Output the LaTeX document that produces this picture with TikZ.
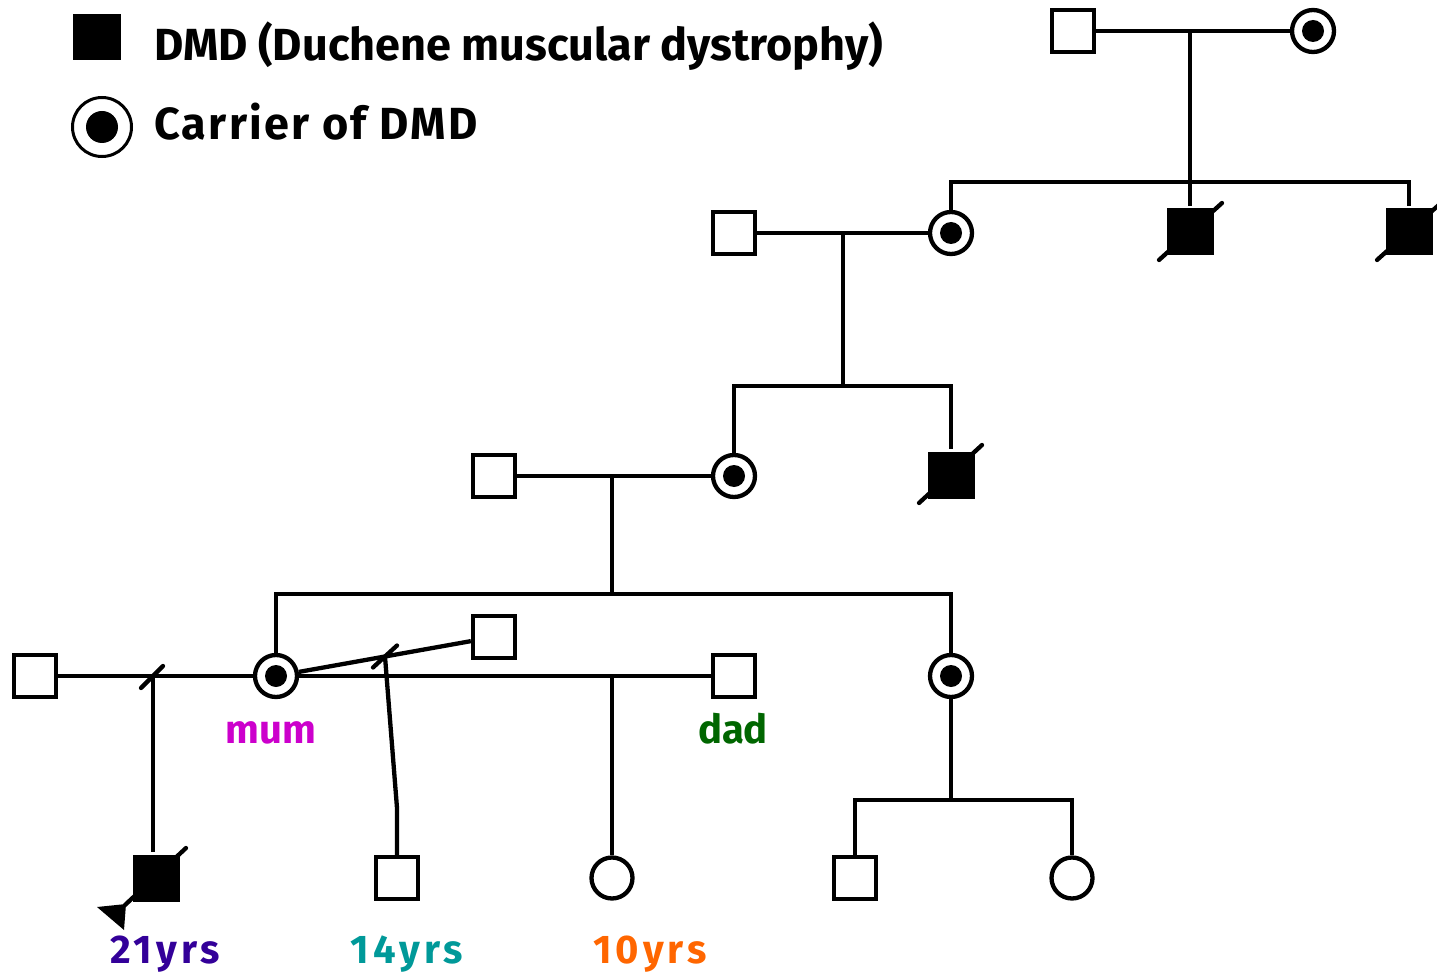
\documentclass[tikz,border=0pt]{standalone}
\usepackage{fontspec}
\setmainfont{Fira Sans}
\usetikzlibrary{calc}
\begin{document}
\begin{tikzpicture}[x=1pt,y=-1pt,line width=4.3pt,
  sq/.style={draw,rectangle,minimum size=42pt,inner sep=0pt,fill=white},
  aff/.style={rectangle,minimum size=47pt,inner sep=0pt,fill=black},
  fem/.style={draw,circle,minimum size=41pt,inner sep=0pt,fill=white},
  car/.style={draw,circle,minimum size=42pt,inner sep=0pt,fill=white,
    path picture={\fill[black] (path picture bounding box.center) circle (11pt);}},
  legtext/.style={anchor=base west,inner sep=0pt,font=\fontsize{45}{45}\selectfont\bfseries},
  lbl/.style={anchor=base,inner sep=0pt,font=\fontsize{40}{40}\selectfont\bfseries},
  agelbl/.style={lbl,font=\fontsize{40}{40}\selectfont\bfseries\addfontfeatures{LetterSpace=10}},
  slash/.style={line cap=round}]
\useasboundingbox (0,0) rectangle (1437,976);
\definecolor{mumcol}{HTML}{CC00CC}
\definecolor{dadcol}{HTML}{006600}
\definecolor{c21}{HTML}{330099}
\definecolor{c14}{HTML}{009999}
\definecolor{c10}{HTML}{FF6600}

% legend
\node[aff,minimum width=48pt,minimum height=46pt] (legA) at (97,37) {};
\node[legtext] (legAt) at (152,61) {DMD (Duchene muscular dystrophy)};
\node[draw,circle,line width=3pt,minimum size=59pt,inner sep=0pt,
  path picture={\fill[black] (path picture bounding box.center) circle (16pt);}] (legB) at (102,127) {};
\node[legtext,font=\fontsize{45}{45}\selectfont\bfseries\addfontfeatures{LetterSpace=5}] (legBt) at (152,140) {Carrier of DMD};

% generation I
\node[sq] (P1) at (1073,31) {};
\node[car] (P2) at (1313,31) {};
% generation II
\node[sq] (G2m) at (734,233) {};
\node[car] (G2f) at (951,233) {};
\node[aff] (G2b) at (1190,232) {};
\node[aff] (G2c) at (1409,232) {};
% generation III
\node[sq] (G3m) at (494,476) {};
\node[car] (G3f) at (734,476) {};
\node[aff] (G3b) at (951,475) {};
% generation IV
\node[sq] (H1) at (35,676) {};
\node[car] (mum) at (276,676) {};
\node[sq] (H2) at (494,637) {};
\node[sq] (Dad) at (734,676) {};
\node[car] (G4c) at (951,676) {};
% generation V
\node[aff] (P) at (156,878) {};
\node[sq] (C14) at (397,878) {};
\node[fem] (C10) at (612,878) {};
\node[sq] (G5a) at (855,878) {};
\node[fem] (G5b) at (1072,878) {};

% coordinates
\coordinate (m1) at (1190,31);
\coordinate (s1) at (1190,182);
\coordinate (m2) at (843,233);
\coordinate (s2) at (843,386);
\coordinate (m3) at (612,476);
\coordinate (s3) at (612,594);
\coordinate (m4) at (153,676);
\coordinate (m5) at ($(mum)!0.5!(H2)$);
\coordinate (k) at (397,808);
\coordinate (m6) at (612,676);
\coordinate (s4) at (951,800);

% connectors
\draw (P1) -- (P2);
\draw (m1) -- (s1) -- (G2b.north);
\draw (G2f.north) |- (s1) -| (G2c.north);

\draw (G2m) -- (G2f);
\draw (m2) -- (s2);
\draw (G3f.north) |- (s2) -| (G3b.north);

\draw (G3m) -- (G3f);
\draw (m3) -- (s3);
\draw (mum.north) |- (s3) -| (G4c.north);

\draw (H1) -- (mum);
\draw (m4) -- (m4 |- P.north);
\draw (mum) -- (H2);
\draw (m5) -- (k) -- (C14.north);
\draw (mum) -- (Dad);
\draw (m6) -- (C10.north);
\draw (G4c.south) -- (s4);
\draw (G5a.north) |- (s4) -| (G5b.north);

% marriage separation slashes
\draw[slash] ($(m4)+(-12,12)$) -- ($(m4)+(10,-10)$);
\draw[slash] ($(m5)+(-12,11)$) -- ($(m5)+(12,-11)$);

% deceased slashes
\draw[slash] ($(G2b)+(-31,28)$) -- ($(G2b)+(32,-29)$);
\draw[slash] ($(G2c)+(-32,28)$) -- ($(G2c)+(32,-29)$);
\draw[slash] ($(G3b)+(-32,28)$) -- ($(G3b)+(31,-30)$);
\draw[slash] ($(P)+(-31,27)$) -- ($(P)+(30,-30)$);
\fill ($(P)+(-59,29)$) -- ($(P)+(-30,26)$) -- ($(P)+(-32,52)$) -- cycle;

% labels
\node[lbl,text=mumcol] (lmum) at (271,743) {mum};
\node[lbl,text=dadcol] (ldad) at (733,743) {dad};
\node[agelbl,text=c21] (l21) at (165,963) {21yrs};
\node[agelbl,text=c14] (l14) at (407,963) {14yrs};
\node[agelbl,text=c10] (l10) at (650,963) {10yrs};
\end{tikzpicture}
\end{document}
